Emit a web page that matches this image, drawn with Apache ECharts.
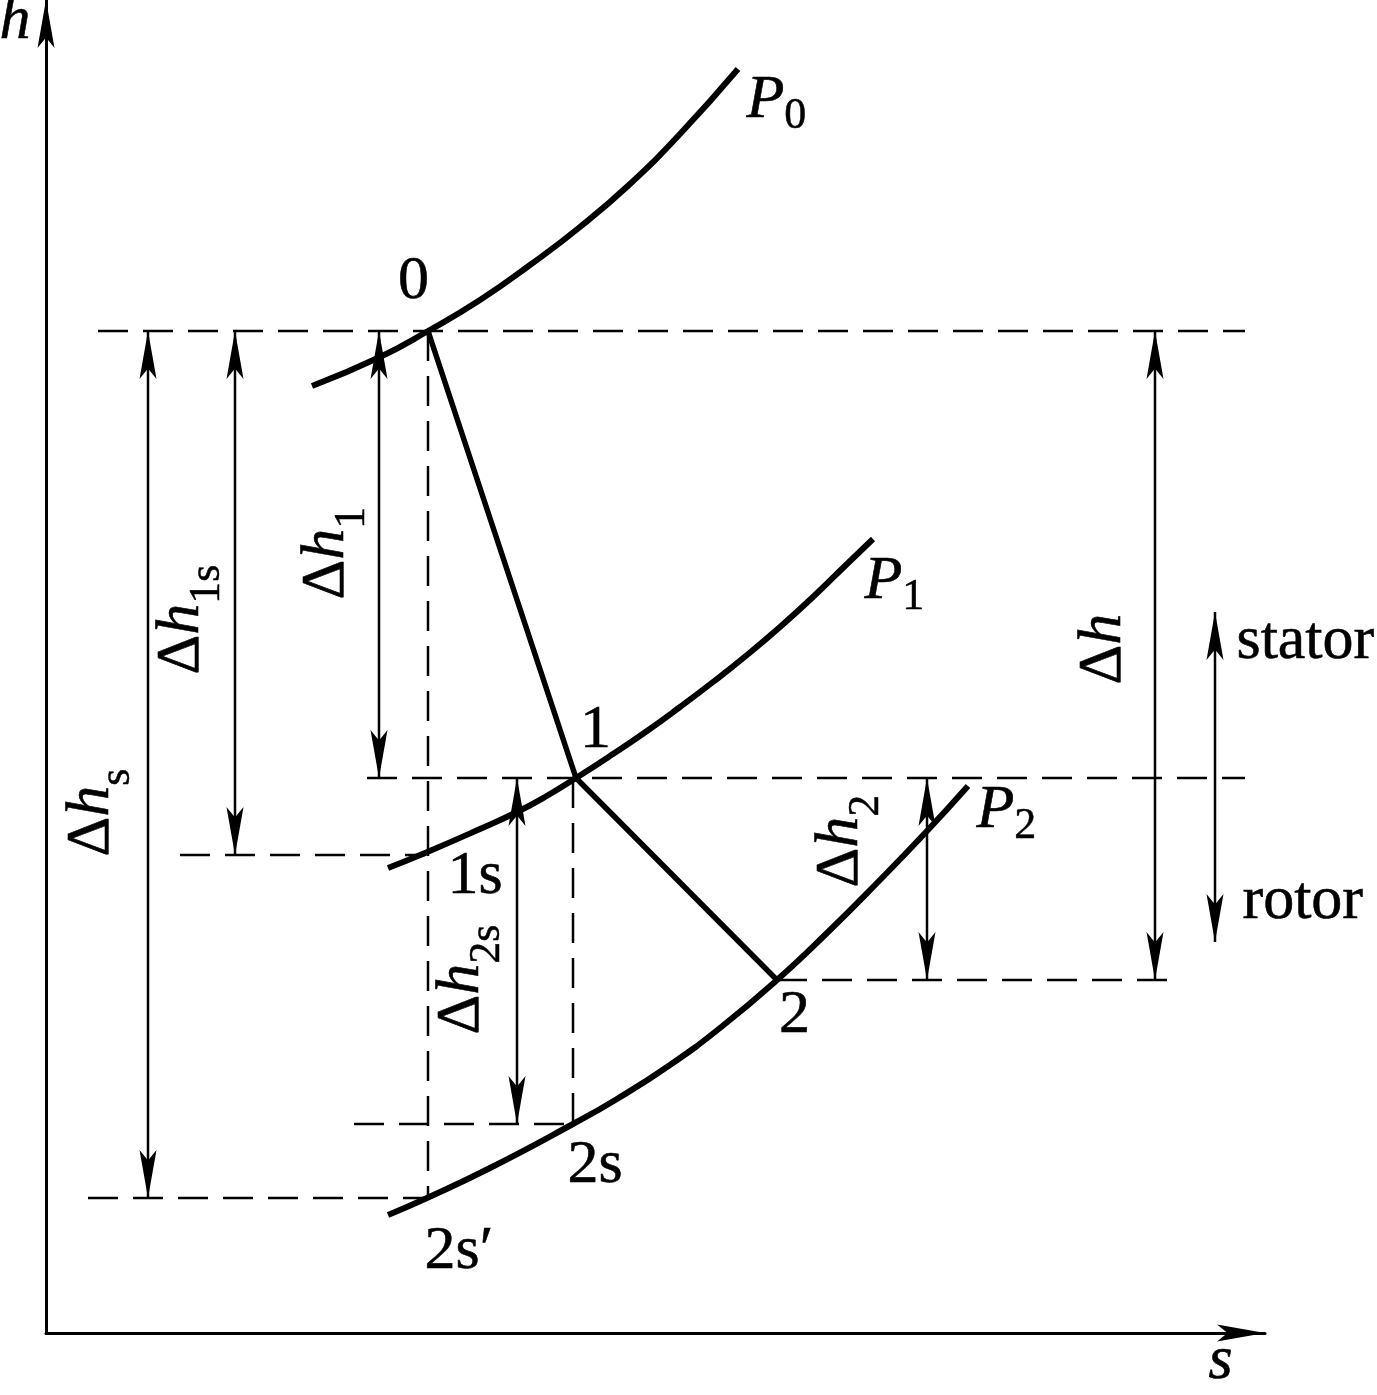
<!DOCTYPE html>
<html>
<head>
<meta charset="utf-8">
<title>h-s diagram</title>
<script src="https://cdn.jsdelivr.net/npm/echarts@6/dist/echarts.min.js"></script>
<style>
html, body { margin: 0; padding: 0; background: #fff; }
#hsChart { width: 1377px; height: 1395px; }
</style>
</head>
<body>
<div id="hsChart"></div>
<script>
// h-s diagram of a turbine stage (s to the right, h upward)
const axisRange = { sMin: 46, sMax: 1265, hMin: 62, hMax: 1395 };

// isobars
const p0Line = [[312, 1009], [380, 1038], [428, 1064], [480, 1095], [530, 1130], [580, 1168], [630, 1211], [680, 1261], [738, 1326]];
const p1Line = [[388, 527], [425, 542], [480, 566], [517, 583], [545, 598], [576, 617], [613, 641], [647, 664], [680, 688], [713, 713], [747, 740], [780, 768], [813, 798], [847, 831], [873, 856]];
const p2Line = [[388, 180], [427, 197], [490, 227], [573, 271], [617, 296], [670, 330], [720, 367], [777, 415], [827, 462], [877, 512], [927, 564], [968, 609]];

// expansion 0 -> 1 -> 2
const processLine = [[428, 1064], [576, 617], [777, 415]];

// guide lines [[s1, h1], [s2, h2]]
const guideLines = [
  [[98, 1064], [1245, 1064]],
  [[367, 617], [1245, 617]],
  [[180, 540], [425, 540]],
  [[777, 415], [1170, 415]],
  [[354, 271], [573, 271]],
  [[88, 197], [428, 197]],
  [[428, 1064], [428, 197]],
  [[573, 617], [573, 271]]
];

// enthalpy drops [s, hFrom, hTo]
const dimArrows = [
  [148, 1064, 197],
  [235, 1064, 540],
  [379, 1064, 617],
  [517, 617, 271],
  [927, 617, 415],
  [1155, 1064, 415],
  [1215, 783, 453]
];

// axis arrow heads [sTip, hTip, sTail, hTail]
const axisHeads = [[1265, 62, 1200, 62], [46, 1395, 46, 1330]];

// annotations
const labelText = [
  '{i|h}', '{i|s}', '0', '1', '2', '1s', '2s', '2s′',
  '{i|P}{ps|0}', '{i|P}{ps|1}', '{i|P}{ps|2}', 'stator', 'rotor',
  '{d|Δ}{i|h}{sub|s}', '{d|Δ}{i|h}{sub|1s}', '{d|Δ}{i|h}{sub|1}',
  '{d|Δ}{i|h}{sub|2s}', '{d|Δ}{i|h}{sub|2}', '{d|Δ}{i|h}'
];
const labelAt = [
  [0, 1373], [1221, 33], [414, 1113], [596, 664], [795, 379], [448, 518], [568, 229], [425, 143],
  [747, 1294], [865, 813], [977, 584], [1237, 753], [1243, 493],
  [92, 538], [182, 720], [327, 795], [462, 360], [841, 507], [1104, 710]
];

const SERIF = '"Liberation Serif", "Times New Roman", serif';

function arrowHead(tip, from, len, wid) {
  const dx = tip[0] - from[0];
  const dy = tip[1] - from[1];
  const d = Math.sqrt(dx * dx + dy * dy) || 1;
  const ux = dx / d, uy = dy / d;
  const nx = -uy, ny = ux;
  const bx = tip[0] - ux * len, by = tip[1] - uy * len;
  const mx = tip[0] - ux * len * 0.78, my = tip[1] - uy * len * 0.78;
  return {
    type: 'polygon',
    shape: { points: [tip, [bx + nx * wid / 2, by + ny * wid / 2], [mx, my], [bx - nx * wid / 2, by - ny * wid / 2]] },
    style: { fill: '#000' }
  };
}

function labelItem(text, i) {
  let rotate = 0, align = 'left';
  if (i >= 13) rotate = 90;
  else if (i <= 4 && i !== 0) align = 'center';
  return {
    value: labelAt[i],
    label: { formatter: text, rotate: rotate, align: align, verticalAlign: 'middle' }
  };
}

const chart = echarts.init(document.getElementById('hsChart'));

const series = [];
[p0Line, p1Line, p2Line].forEach(function (pts) {
  series.push({
    type: 'line', data: pts, smooth: true, symbol: 'none', silent: true,
    lineStyle: { color: '#000', width: 6 }
  });
});
series.push({
  type: 'line', data: processLine, symbol: 'none', silent: true,
  lineStyle: { color: '#000', width: 5.5 }
});
guideLines.forEach(function (seg) {
  series.push({
    type: 'line', data: seg, symbol: 'none', silent: true,
    lineStyle: { color: '#000', width: 2.5, type: [30, 15] }
  });
});
series.push({
  type: 'custom', silent: true, clip: false,
  data: dimArrows,
  encode: { x: 0, y: [1, 2] },
  renderItem: function (params, api) {
    const a = api.coord([api.value(0), api.value(1)]);
    const b = api.coord([api.value(0), api.value(2)]);
    return {
      type: 'group',
      children: [
        { type: 'line', shape: { x1: a[0], y1: a[1], x2: b[0], y2: b[1] }, style: { stroke: '#000', lineWidth: 2.5 } },
        arrowHead(a, b, 48, 17),
        arrowHead(b, a, 48, 17)
      ]
    };
  }
});
series.push({
  type: 'custom', silent: true, clip: false,
  data: axisHeads,
  encode: { x: [0, 2], y: [1, 3] },
  renderItem: function (params, api) {
    const tip = api.coord([api.value(0), api.value(1)]);
    const tail = api.coord([api.value(2), api.value(3)]);
    return arrowHead(tip, tail, 48, 17);
  }
});
series.push({
  type: 'scatter', silent: true, clip: false,
  symbolSize: 1,
  itemStyle: { color: 'rgba(0,0,0,0)', opacity: 1 },
  data: labelText.map(labelItem),
  label: {
    show: true,
    position: [0, 0],
    opacity: 1,
    color: '#000',
    fontFamily: SERIF,
    fontSize: 62,
    textBorderColor: '#000',
    textBorderWidth: 0.6,
    rich: {
      d: { fontFamily: SERIF, fontSize: 62, color: '#000', textBorderColor: '#000', textBorderWidth: 0.6 },
      i: { fontFamily: SERIF, fontSize: 62, fontStyle: 'italic', color: '#000', textBorderColor: '#000', textBorderWidth: 0.6 },
      sub: { fontFamily: SERIF, fontSize: 44, color: '#000', padding: [52, 0, 0, 0], textBorderColor: '#000', textBorderWidth: 0.5 },
      ps: { fontFamily: SERIF, fontSize: 44, color: '#000', padding: [32, 0, 0, 0], textBorderColor: '#000', textBorderWidth: 0.5 }
    }
  }
});

const option = {
  animation: false,
  backgroundColor: '#fff',
  grid: { left: axisRange.sMin, right: 1377 - axisRange.sMax, top: 0, bottom: axisRange.hMin },
  xAxis: {
    type: 'value', min: axisRange.sMin, max: axisRange.sMax,
    axisLine: { show: true, onZero: false, lineStyle: { color: '#000', width: 3 } },
    axisTick: { show: false }, axisLabel: { show: false }, splitLine: { show: false }
  },
  yAxis: {
    type: 'value', min: axisRange.hMin, max: axisRange.hMax,
    axisLine: { show: true, onZero: false, lineStyle: { color: '#000', width: 3 } },
    axisTick: { show: false }, axisLabel: { show: false }, splitLine: { show: false }
  },
  series: series
};

chart.setOption(option);
</script>
</body>
</html>
